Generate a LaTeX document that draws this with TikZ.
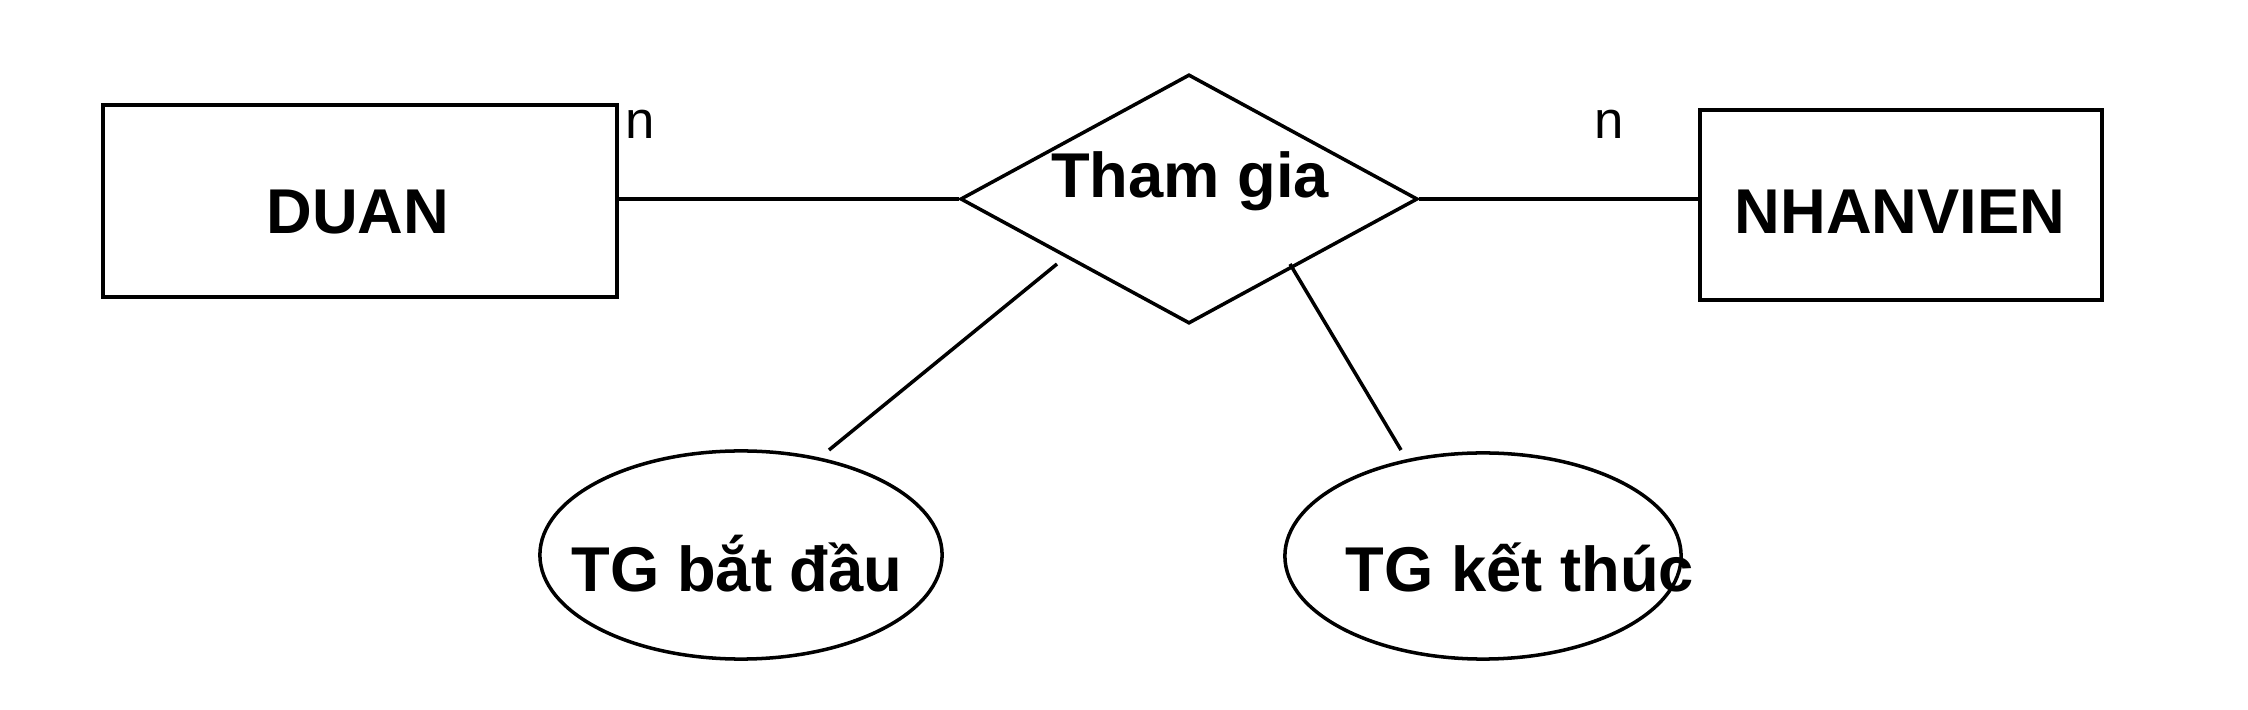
\documentclass[tikz,border=0pt]{standalone}
\usepackage{fontspec}
\setmainfont{Liberation Sans}
\usetikzlibrary{shapes.geometric,calc}
\begin{document}
\begin{tikzpicture}[x=0.01cm,y=-0.01cm,
  every path/.style={line width=1pt},
  entity/.style={draw,rectangle,inner sep=0pt},
  relation/.style={draw,diamond,inner sep=0pt},
  attrib/.style={draw,ellipse,inner sep=0pt},
  lbl/.style={font=\bfseries\fontsize{18}{20}\selectfont,anchor=base,inner sep=0pt},
  card/.style={font=\fontsize{15}{17}\selectfont,anchor=base,inner sep=0pt}]
\useasboundingbox (0,0) rectangle (2248,710);
% entities
\node[entity,minimum width=5.14cm,minimum height=1.92cm] (duan) at (360,201) {};
\node[entity,minimum width=4.02cm,minimum height=1.90cm] (nhan) at (1901,205) {};
\node[lbl] (tduan) at (358,234) {DUAN};
\node[lbl] (tnhan) at (1900,234) {NHANVIEN};
% relationship
\node[relation,minimum width=4.57cm,minimum height=2.49cm] (rel) at (1189,199) {};
\node[lbl] (trel) at (1190,198) {Tham gia};
% attributes
\node[attrib,minimum width=4.02cm,minimum height=2.08cm] (bd) at (741,555) {};
\node[attrib,minimum width=3.96cm,minimum height=2.06cm] (kt) at (1483,556) {};
\node[lbl] (tbd) at (737,592) {TG bắt đầu};
\node[lbl] (tkt) at (1520,592) {TG kết thúc};
% cardinalities
\node[card] (n1) at (640,139) {n};
\node[card] (n2) at (1609,139) {n};
% connectors
\draw (rel.west -| duan.east) -- (rel.west);
\draw (rel.east) -- (rel.east -| nhan.west);
\coordinate (a1) at (1057,264);
\coordinate (a2) at (829,450);
\coordinate (b1) at (1290,264);
\coordinate (b2) at (1401,450);
\draw (a1) -- (a2);
\draw (b1) -- (b2);
\end{tikzpicture}
\end{document}
